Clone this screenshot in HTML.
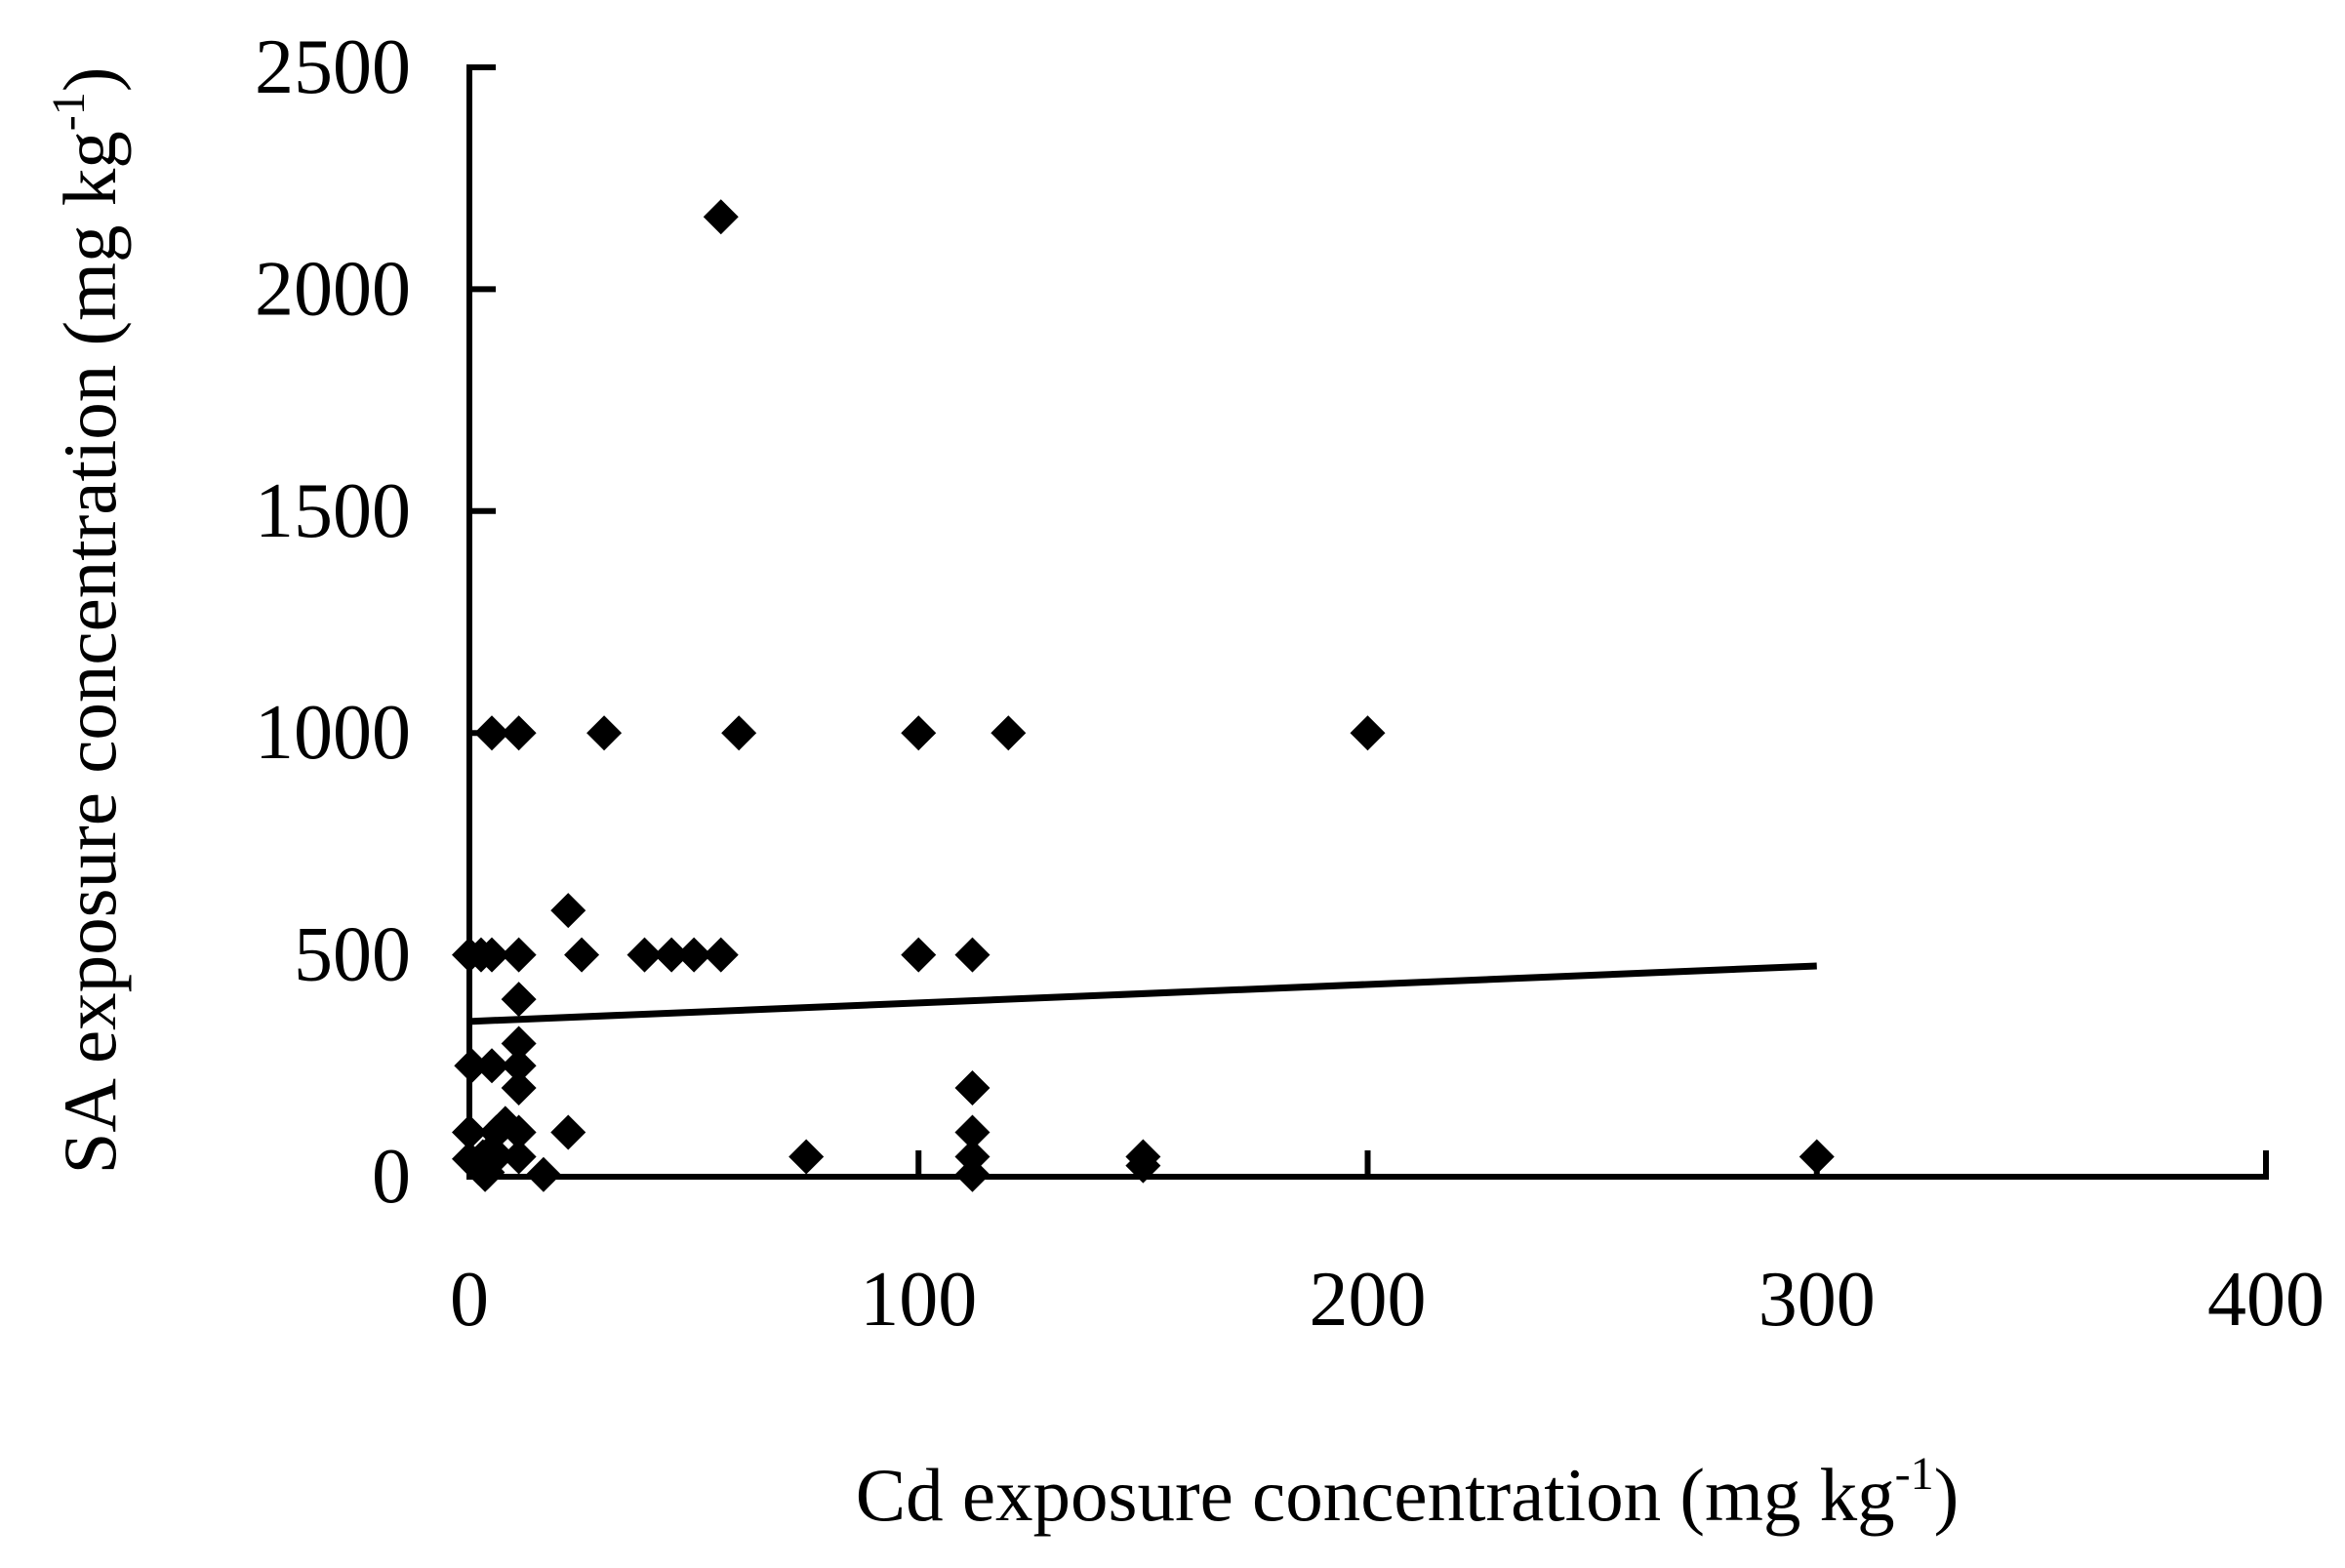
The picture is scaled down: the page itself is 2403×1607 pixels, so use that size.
<!DOCTYPE html>
<html><head><meta charset="utf-8"><style>
html,body{margin:0;padding:0;background:#fff;}
svg{display:block;font-family:"Liberation Serif","Times New Roman",serif;}
</style></head><body>
<svg id="chart" width="2403" height="1607" viewBox="0 0 2403 1607" xmlns="http://www.w3.org/2000/svg">
<rect width="2403" height="1607" fill="#fff"/>
<g id="axes"></g>
<g id="points"></g>
<g id="trend"></g>
<text x="1442" y="1558" font-size="77" text-anchor="middle">Cd exposure concentration (mg kg<tspan dy="-32" font-size="48">-1</tspan><tspan dy="32">)</tspan></text>
<text transform="translate(118,636) rotate(-90)" font-size="77" text-anchor="middle">SA exposure concentration (mg kg<tspan dy="-32" font-size="48">-1</tspan><tspan dy="32">)</tspan></text>
</svg>
<script>
const xTicks=[0,100,200,300,400];
const yTicks=[0,500,1000,1500,2000,2500];
const xVals=[56,5,11,30,60,100,120,200,
 0,2.6,5,11,22,25,39,45,50,56,100,112,
 11,11,0.5,5,11,11,112,
 0,6,11,22,112,
 0,3,6,11,75,112,150,300,
 3.5,16.5,112,150,2,5,8,4];
const yVals=[2163,1000,1000,1000,1000,1000,1000,1000,
 500,500,500,500,600,500,500,500,500,500,500,500,
 400,300,250,250,250,200,200,
 100,100,100,100,100,
 40,45,45,45,45,45,45,45,
 5,5,5,25,20,60,120,10];
const trendX=[0,300];
const trendY=[350,475];
const X0=481,X1=2322,Y0=1206,Y1=69;
function sx(v){return X0+(v-0)/(400-0)*(X1-X0);}
function sy(v){return Y0-(v-0)/(2500-0)*(Y0-Y1);}
const NS="http://www.w3.org/2000/svg";
function mk(t,a){const e=document.createElementNS(NS,t);for(const k in a)e.setAttribute(k,a[k]);return e;}
const axes=document.getElementById('axes');
let l=mk('line',{x1:X0,y1:Y1-3,x2:X0,y2:Y0+3,stroke:'#000','stroke-width':6});


axes.appendChild(l);
l=mk('line',{x1:X0-3,y1:Y0,x2:X1+3,y2:Y0,stroke:'#000','stroke-width':6});


axes.appendChild(l);
yTicks.forEach(v=>{
 const t=mk('line',{x1:X0,y1:sy(v),x2:X0+27,y2:sy(v),stroke:'#000','stroke-width':6});
 
 
 axes.appendChild(t);
 const tx=mk('text',{x:421,y:sy(v)+26,'font-size':80,'text-anchor':'end'});
 
 
 tx.textContent=v;axes.appendChild(tx);
});
xTicks.forEach(v=>{
 const t=mk('line',{x1:sx(v),y1:Y0,x2:sx(v),y2:Y0-27,stroke:'#000','stroke-width':6});
 
 
 axes.appendChild(t);
 const tx=mk('text',{x:sx(v),y:1358,'font-size':80,'text-anchor':'middle'});
 
 
 tx.textContent=v;axes.appendChild(tx);
});
const pts=document.getElementById('points');
xVals.forEach((v,i)=>{
 const cx=sx(v),cy=sy(yVals[i]),r=18;
 const p=mk('polygon',{points:`${cx},${cy-r} ${cx+r},${cy} ${cx},${cy+r} ${cx-r},${cy}`,fill:'#000'});
 
 
 pts.appendChild(p);
});
const tl=mk('line',{x1:sx(trendX[0]),y1:sy(trendY[0]),x2:sx(trendX[1]),y2:sy(trendY[1]),stroke:'#000','stroke-width':7});


document.getElementById('trend').appendChild(tl);
</script>
</body></html>
